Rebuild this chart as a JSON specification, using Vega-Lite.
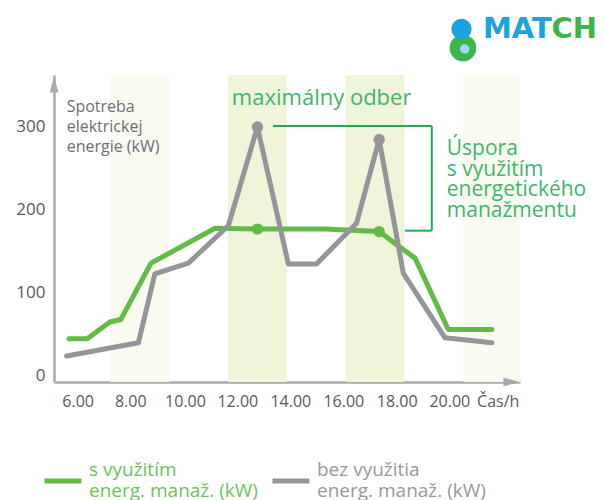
{
  "$schema": "https://vega.github.io/schema/vega-lite/v6.json",
  "autosize": "none",
  "width": 466,
  "height": 307,
  "padding": {"left": 54, "top": 75, "right": 85, "bottom": 118},
  "background": "white",
  "config": {"view": {"stroke": null}, "font": "Open Sans"},
  "datasets": {
    "bands": [
      {"start": 7, "end": 9, "zone": "outer"},
      {"start": 11, "end": 13, "zone": "inner"},
      {"start": 15, "end": 17, "zone": "inner"},
      {"start": 19, "end": 21, "zone": "outer"}
    ],
    "lines": [
      {"series": "s", "hour": 5.59, "value": 45},
      {"series": "s", "hour": 6.21, "value": 45},
      {"series": "s", "hour": 6.98, "value": 65},
      {"series": "s", "hour": 7.35, "value": 68},
      {"series": "s", "hour": 8.38, "value": 136},
      {"series": "s", "hour": 10.56, "value": 178},
      {"series": "s", "hour": 12.0, "value": 177},
      {"series": "s", "hour": 14.3, "value": 177},
      {"series": "s", "hour": 16.14, "value": 174},
      {"series": "s", "hour": 16.74, "value": 158},
      {"series": "s", "hour": 17.36, "value": 142},
      {"series": "s", "hour": 18.49, "value": 56},
      {"series": "s", "hour": 19.97, "value": 56},
      {"series": "bez", "hour": 5.51, "value": 24},
      {"series": "bez", "hour": 7.95, "value": 40},
      {"series": "bez", "hour": 8.51, "value": 123},
      {"series": "bez", "hour": 9.65, "value": 136},
      {"series": "bez", "hour": 11.01, "value": 181},
      {"series": "bez", "hour": 12.0, "value": 300},
      {"series": "bez", "hour": 13.05, "value": 135},
      {"series": "bez", "hour": 14.01, "value": 135},
      {"series": "bez", "hour": 15.37, "value": 184},
      {"series": "bez", "hour": 16.14, "value": 285},
      {"series": "bez", "hour": 16.96, "value": 124},
      {"series": "bez", "hour": 18.38, "value": 46},
      {"series": "bez", "hour": 19.97, "value": 40}
    ],
    "markers": [
      {"series": "s", "hour": 12.0, "value": 177},
      {"series": "s", "hour": 16.14, "value": 174},
      {"series": "bez", "hour": 12.0, "value": 300},
      {"series": "bez", "hour": 16.14, "value": 285}
    ],
    "bracket": [
      {"x1": 12.53, "x2": 17.93, "y1": 301.2, "y2": 301.2},
      {"x1": 17.93, "x2": 17.93, "y1": 301.2, "y2": 175.1},
      {"x1": 17.02, "x2": 17.93, "y1": 175.1, "y2": 175.1}
    ],
    "arrows": [
      {"hour": 5.08, "value": 351.3, "dir": "up"},
      {"hour": 20.64, "value": -7.23, "dir": "right"}
    ]
  },
  "layer": [
    {
      "data": {"name": "bands"},
      "mark": {"type": "rect", "clip": true},
      "encoding": {
        "x": {"field": "start", "type": "quantitative", "scale": {"domain": [5.08, 20.93], "nice": false, "zero": false},
          "axis": {"values": [5.886, 7.675, 9.536, 11.315, 13.117, 14.92, 16.736, 18.526, 20.172],
            "labelExpr": "datum.value > 20 ? 'Čas/h' : format(2*round((datum.value - 5.886)/1.8) + 6, '.2f')",
            "title": null, "grid": false, "ticks": false, "labelFontSize": 16, "labelColor": "#58595B",
            "labelPadding": 11, "domainColor": "#A7A9AC", "domainWidth": 2.5, "labelFont": "Open Sans", "labelOverlap": false}},
        "x2": {"field": "end"},
        "fill": {"field": "zone", "type": "nominal", "scale": {"domain": ["inner", "outer"], "range": ["#EFF5D8", "#F9FBF1"]}, "legend": null}
      }
    },
    {
      "data": {"name": "lines"},
      "mark": {"type": "line", "strokeWidth": 5, "strokeJoin": "round", "strokeCap": "round"},
      "encoding": {
        "x": {"field": "hour", "type": "quantitative"},
        "y": {"field": "value", "type": "quantitative", "scale": {"domain": [-7.23, 362.65], "nice": false, "zero": false},
          "axis": {"values": [0, 100, 200, 300], "title": null, "grid": false, "ticks": false, "labelFontSize": 17,
            "labelColor": "#58595B", "labelPadding": 9, "domainColor": "#A7A9AC", "domainWidth": 2.5, "labelFont": "Open Sans"}},
        "color": {"field": "series", "type": "nominal", "sort": null,
          "scale": {"domain": ["s", "bez"], "range": ["#62BB46", "#939598"]},
          "legend": {"orient": "none", "legendX": -12, "legendY": 374, "direction": "horizontal", "title": null,
            "symbolType": "M-1,0.6L1,0.6", "symbolStrokeWidth": 5, "symbolSize": 1369, "labelFontSize": 19, "labelFont": "Open Sans",
            "labelExpr": "datum.value == 's' ? ['s využitím', 'energ. manaž. (kW)'] : ['bez využitia', 'energ. manaž. (kW)']",
            "labelColor": {"expr": "datum.value == 's' ? '#6EC25A' : '#98999C'"},
            "labelOffset": 5, "columnPadding": 4, "labelLimit": 400, "padding": 0, "labelBaseline": "middle"}}
      }
    },
    {
      "data": {"name": "markers"},
      "mark": {"type": "point", "filled": true, "size": 130, "opacity": 1},
      "encoding": {
        "x": {"field": "hour", "type": "quantitative"},
        "y": {"field": "value", "type": "quantitative"},
        "color": {"field": "series", "type": "nominal"}
      }
    },
    {
      "data": {"name": "bracket"},
      "mark": {"type": "rule", "color": "#22AA55", "strokeWidth": 2},
      "encoding": {
        "x": {"field": "x1", "type": "quantitative"},
        "x2": {"field": "x2"},
        "y": {"field": "y1", "type": "quantitative"},
        "y2": {"field": "y2"}
      }
    },
    {
      "data": {"values": [{"hour": 11.13, "value": 326.6, "label": "maximálny odber"}]},
      "mark": {"type": "text", "align": "left", "baseline": "alphabetic", "fontSize": 22, "color": "#3DB66B", "font": "Open Sans"},
      "encoding": {
        "x": {"field": "hour", "type": "quantitative"},
        "y": {"field": "value", "type": "quantitative"},
        "text": {"field": "label"}
      }
    },
    {
      "data": {"values": [{"hour": 18.44, "value": 266.3, "label": "Úspora\ns využitím\nenergetického\nmanažmentu"}]},
      "mark": {"type": "text", "align": "left", "baseline": "alphabetic", "fontSize": 21, "lineHeight": 20.6, "lineBreak": "\n", "color": "#3DB66B", "font": "Open Sans"},
      "encoding": {
        "x": {"field": "hour", "type": "quantitative"},
        "y": {"field": "value", "type": "quantitative"},
        "text": {"field": "label"}
      }
    },
    {
      "data": {"values": [{"hour": 5.51, "value": 318.5, "label": "Spotreba\nelektrickej\nenergie (kW)"}]},
      "mark": {"type": "text", "align": "left", "baseline": "alphabetic", "fontSize": 16, "lineHeight": 20, "lineBreak": "\n", "color": "#6D6E71", "font": "Open Sans"},
      "encoding": {
        "x": {"field": "hour", "type": "quantitative"},
        "y": {"field": "value", "type": "quantitative"},
        "text": {"field": "label"}
      }
    },
    {
      "data": {"name": "arrows"},
      "mark": {"type": "point", "filled": true, "size": 256, "color": "#A7A9AC", "opacity": 1},
      "encoding": {
        "x": {"field": "hour", "type": "quantitative"},
        "y": {"field": "value", "type": "quantitative"},
        "shape": {"field": "dir", "type": "nominal", "scale": {"domain": ["up", "right"], "range": ["M0,-1L0.55,1L-0.55,1Z", "M1,0L-1,-0.55L-1,0.55Z"]}, "legend": null}
      }
    },
    {
      "data": {"values": [{"hour": 18.99, "value": 395.2}]},
      "mark": {"type": "point", "filled": true, "size": 707, "color": "#3DB54A", "opacity": 1},
      "encoding": {"x": {"field": "hour", "type": "quantitative"}, "y": {"field": "value", "type": "quantitative"}}
    },
    {
      "data": {"values": [{"hour": 19.05, "value": 394}]},
      "mark": {"type": "point", "filled": true, "size": 90, "color": "#9ED8F2", "opacity": 1},
      "encoding": {"x": {"field": "hour", "type": "quantitative"}, "y": {"field": "value", "type": "quantitative"}}
    },
    {
      "data": {"values": [{"hour": 18.94, "value": 418.1}]},
      "mark": {"type": "point", "filled": true, "size": 415, "color": "#1BA3E0", "opacity": 1},
      "encoding": {"x": {"field": "hour", "type": "quantitative"}, "y": {"field": "value", "type": "quantitative"}}
    },
    {
      "data": {"values": [{"hour": 19.672, "value": 406.9, "label": "MAT"}]},
      "mark": {"type": "text", "align": "left", "baseline": "alphabetic", "fontSize": 29, "fontWeight": "bold", "font": "DejaVu Sans", "color": "#1BA3E0"},
      "encoding": {"x": {"field": "hour", "type": "quantitative"}, "y": {"field": "value", "type": "quantitative"}, "text": {"field": "label"}}
    },
    {
      "data": {"values": [{"hour": 23.55, "value": 406.9, "label": "CH"}]},
      "mark": {"type": "text", "align": "right", "baseline": "alphabetic", "fontSize": 29, "fontWeight": "bold", "font": "DejaVu Sans", "color": "#3DB54A"},
      "encoding": {"x": {"field": "hour", "type": "quantitative"}, "y": {"field": "value", "type": "quantitative"}, "text": {"field": "label"}}
    }
  ]
}
